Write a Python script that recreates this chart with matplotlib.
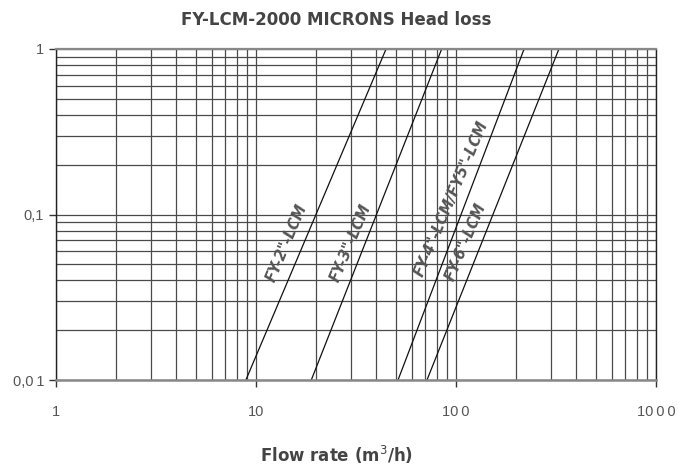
import numpy as np
import matplotlib
matplotlib.use("Agg")
import matplotlib.pyplot as plt
from matplotlib.ticker import FixedLocator, LogLocator, NullFormatter

# Flow rate (m3/h) where each curve meets head loss 0.01 and 1
head_ends = [0.01, 1.0]
models = ['FY-2"-LCM', 'FY-3"-LCM', 'FY-4"-LCM/FY5"-LCM', 'FY-6"-LCM']
flow_ends = [[8.9, 44.7], [18.9, 84.8], [51.3, 219.0], [71.6, 327.0]]
label_pos = [(14.2, 0.0675), (29.8, 0.0675), (95.0, 0.125), (112.0, 0.068)]

xticks = [1, 10, 100, 1000]
xticklabels = ["1", "10", "10\u20090", "10\u20090\u20090"]
yticks = [0.01, 0.1, 1]
yticklabels = ["0,0\u20091", "0,1", "1"]

txt = "#555555"
grid_c = "#4a4a4a"

fig = plt.figure(figsize=(6.78, 4.68), dpi=100)
ax = fig.add_axes([56/678, 1-380/468, 600/678, 331/468])
ax.set_xscale("log")
ax.set_yscale("log")
ax.set_xlim(1, 1000)
ax.set_ylim(0.01, 1)

# full log grid
ax.xaxis.set_minor_locator(LogLocator(base=10, subs=np.arange(2, 10)))
ax.yaxis.set_minor_locator(LogLocator(base=10, subs=np.arange(2, 10)))
ax.xaxis.set_minor_formatter(NullFormatter())
ax.yaxis.set_minor_formatter(NullFormatter())
ax.grid(True, which="both", color=grid_c, lw=0.9)
ax.set_axisbelow(True)

for q, (lx, ly), name in zip(flow_ends, label_pos, models):
    ax.plot(q, head_ends, color="#111111", lw=0.9)
    ax.text(lx, ly, name, rotation=67, ha="center", va="center",
            fontsize=10.5, fontweight="bold", fontstyle="italic", color=txt,
            family="DejaVu Sans")

ax.xaxis.set_major_locator(FixedLocator(xticks))
ax.set_xticklabels(xticklabels)
ax.yaxis.set_major_locator(FixedLocator(yticks))
ax.set_yticklabels(yticklabels)
ax.tick_params(which="major", length=5, width=1, color="#333333",
               labelsize=10.5, labelcolor=txt)
ax.tick_params(axis="x", which="major", pad=13)
ax.tick_params(which="minor", length=0)
for lab in ax.get_xticklabels() + ax.get_yticklabels():
    lab.set_family("Liberation Sans")

for s in ["left", "right"]:
    ax.spines[s].set_color("#222222")
    ax.spines[s].set_linewidth(1.0)
ax.spines["top"].set_color("#888888")
ax.spines["top"].set_linewidth(1.6)
ax.spines["bottom"].set_color("#888888")
ax.spines["bottom"].set_linewidth(1.8)

fig.text(336/678, 1-20/468, "FY-LCM-2000 MICRONS Head loss", ha="center",
         va="center", fontsize=12, fontweight="bold", color="#444444",
         family="DejaVu Sans")
fig.text(337/678, 1-455/468, "Flow rate (m$^3$/h)", ha="center", va="center",
         fontsize=12, fontweight="bold", color="#444444", family="DejaVu Sans")

fig.savefig("out.png", dpi=100)
